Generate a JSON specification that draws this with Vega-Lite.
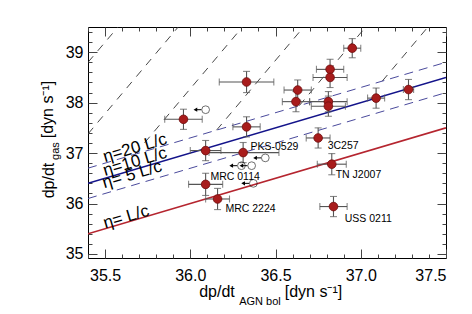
{
  "$schema": "https://vega.github.io/schema/vega-lite/v6.json",
  "width": 358,
  "height": 231,
  "autosize": {"type": "none"},
  "padding": {"left": 88, "top": 27, "right": 26, "bottom": 56},
  "background": "white",
  "config": {
    "view": {"stroke": "#000", "strokeWidth": 1},
    "font": "Liberation Sans",
    "axis": {"grid": false, "domain": false, "labelFont": "Liberation Sans", "titleFont": "Liberation Sans", "labelColor": "#000", "titleColor": "#000", "tickColor": "#444", "titleFontWeight": "normal"}
  },
  "datasets": {
    "pts": [
      {"x": 35.96, "y": 37.67, "xlo": 35.85, "xhi": 36.07, "ylo": 37.47, "yhi": 37.87},
      {"x": 36.33, "y": 38.41, "xlo": 36.17, "xhi": 36.49, "ylo": 38.2, "yhi": 38.62},
      {"x": 36.33, "y": 37.52, "xlo": 36.25, "xhi": 36.41, "ylo": 37.32, "yhi": 37.72},
      {"x": 36.09, "y": 37.05, "xlo": 36.0, "xhi": 36.18, "ylo": 36.85, "yhi": 37.25},
      {"x": 36.31, "y": 37.01, "xlo": 36.11, "xhi": 36.52, "ylo": 36.81, "yhi": 37.21},
      {"x": 36.09, "y": 36.38, "xlo": 35.99, "xhi": 36.19, "ylo": 36.16, "yhi": 36.6},
      {"x": 36.16, "y": 36.09, "xlo": 36.09, "xhi": 36.23, "ylo": 35.88, "yhi": 36.3},
      {"x": 36.95, "y": 39.08, "xlo": 36.9, "xhi": 37.0, "ylo": 38.89, "yhi": 39.27},
      {"x": 36.82, "y": 38.66, "xlo": 36.74, "xhi": 36.9, "ylo": 38.46, "yhi": 38.86},
      {"x": 36.82, "y": 38.5, "xlo": 36.72, "xhi": 36.92, "ylo": 38.3, "yhi": 38.7},
      {"x": 36.63, "y": 38.25, "xlo": 36.55, "xhi": 36.71, "ylo": 38.05, "yhi": 38.45},
      {"x": 36.62, "y": 38.02, "xlo": 36.54, "xhi": 36.7, "ylo": 37.82, "yhi": 38.22},
      {"x": 36.81, "y": 38.02, "xlo": 36.7, "xhi": 36.92, "ylo": 37.82, "yhi": 38.22},
      {"x": 36.81, "y": 37.93, "xlo": 36.71, "xhi": 36.91, "ylo": 37.73, "yhi": 38.13},
      {"x": 37.09, "y": 38.09, "xlo": 37.04, "xhi": 37.14, "ylo": 37.89, "yhi": 38.29},
      {"x": 37.28, "y": 38.26, "xlo": 37.25, "xhi": 37.31, "ylo": 38.06, "yhi": 38.46},
      {"x": 36.75, "y": 37.3, "xlo": 36.68, "xhi": 36.82, "ylo": 37.1, "yhi": 37.5},
      {"x": 36.83, "y": 36.78, "xlo": 36.745, "xhi": 36.915, "ylo": 36.57, "yhi": 36.99},
      {"x": 36.84, "y": 35.94, "xlo": 36.76, "xhi": 36.92, "ylo": 35.74, "yhi": 36.14}
    ],
    "names": [
      {"name": "PKS-0529", "lx": 36.353, "ly": 37.12},
      {"name": "MRC 0114", "lx": 36.118, "ly": 36.53},
      {"name": "MRC 2224", "lx": 36.206, "ly": 35.89},
      {"name": "3C257", "lx": 36.806, "ly": 37.14},
      {"name": "TN J2007", "lx": 36.853, "ly": 36.57},
      {"name": "USS 0211", "lx": 36.906, "ly": 35.69}
    ],
    "limits": [
      {"x": 36.09, "y": 37.86, "xs": 36.065, "xt": 36.03},
      {"x": 36.44, "y": 36.905, "xs": 36.415, "xt": 36.38},
      {"x": 36.3, "y": 36.75, "xs": 36.275, "xt": 36.24},
      {"x": 36.36, "y": 36.75, "xs": 36.335, "xt": 36.3},
      {"x": 36.37, "y": 36.4, "xs": 36.345, "xt": 36.31}
    ],
    "etaLines": [
      {"eta": "1", "x": 35.4, "y": 35.4}, {"eta": "1", "x": 37.5, "y": 37.5},
      {"eta": "10", "x": 35.4, "y": 36.4}, {"eta": "10", "x": 37.5, "y": 38.5}
    ],
    "etaDashed": [
      {"eta": "20", "x": 35.4, "y": 36.701}, {"eta": "20", "x": 37.5, "y": 38.801},
      {"eta": "5", "x": 35.4, "y": 36.099}, {"eta": "5", "x": 37.5, "y": 38.199}
    ],
    "blackLines": [
      {"id": 1, "x": 35.4, "y": 38.8}, {"id": 1, "x": 35.576, "y": 39.5},
      {"id": 2, "x": 35.4, "y": 37.38}, {"id": 2, "x": 35.929, "y": 39.5},
      {"id": 3, "x": 35.675, "y": 36.976}, {"id": 3, "x": 36.306, "y": 39.5},
      {"id": 4, "x": 36.154, "y": 37.455}, {"id": 4, "x": 36.665, "y": 39.5},
      {"id": 5, "x": 36.639, "y": 37.94}, {"id": 5, "x": 37.029, "y": 39.5},
      {"id": 6, "x": 37.126, "y": 38.427}, {"id": 6, "x": 37.394, "y": 39.5}
    ],
    "etaLabels": [
      {"t": "η=20 L/c", "x": 35.676, "y": 37.1},
      {"t": "η=10 L/c", "x": 35.676, "y": 36.825},
      {"t": "η= 5 L/c", "x": 35.659, "y": 36.57},
      {"t": "η= L/c", "x": 35.624, "y": 35.73}
    ]
  },
  "resolve": {"axis": {"x": "independent", "y": "independent"}},
  "layer": [
    {
      "data": {"name": "blackLines"},
      "mark": {"type": "line", "color": "#333", "strokeWidth": 0.9, "strokeDash": [8, 7], "clip": true},
      "encoding": {
        "x": {"field": "x", "type": "quantitative", "scale": {"domain": [35.4, 37.5], "nice": false, "zero": false},
          "axis": {"orient": "bottom", "ticks": false, "labels": true, "values": [35.5, 36, 36.5, 37, 37.5], "format": ".1f", "labelFontSize": 16, "labelPadding": 9,
            "title": "dp/dt", "titleFontSize": 16, "titleX": 128.5, "titleY": 38.5, "titleAlign": "center", "titleBaseline": "alphabetic"}},
        "y": {"field": "y", "type": "quantitative", "scale": {"domain": [34.92, 39.5], "nice": false, "zero": false},
          "axis": {"orient": "left", "ticks": false, "labels": true, "values": [35, 36, 37, 38, 39], "format": "d", "labelFontSize": 16, "labelPadding": 5,
            "title": "dp/dt", "titleFontSize": 16, "titleX": -40, "titleY": 153, "titleAlign": "center", "titleBaseline": "middle", "titleAngle": -90}},
        "detail": {"field": "id"}
      }
    },
    {
      "data": {"name": "etaDashed"},
      "mark": {"type": "line", "color": "#4a4a9c", "strokeWidth": 1, "strokeDash": [9, 6], "clip": true},
      "encoding": {
        "x": {"field": "x", "type": "quantitative", "axis": {"orient": "bottom", "labels": false, "tickSize": -9, "tickWidth": 1, "values": [35.5, 36, 36.5, 37, 37.5], "title": null}},
        "y": {"field": "y", "type": "quantitative", "axis": {"orient": "left", "labels": false, "tickSize": -9, "tickWidth": 1, "values": [35, 36, 37, 38, 39], "title": null}},
        "detail": {"field": "eta"}
      }
    },
    {
      "data": {"name": "etaLines"},
      "mark": {"type": "line", "strokeWidth": 1.6, "clip": true},
      "encoding": {
        "x": {"field": "x", "type": "quantitative", "axis": {"orient": "bottom", "labels": false, "tickSize": -4, "values": [35.4, 35.6, 35.7, 35.8, 35.9, 36.1, 36.2, 36.3, 36.4, 36.6, 36.7, 36.8, 36.9, 37.1, 37.2, 37.3, 37.4], "title": null}},
        "y": {"field": "y", "type": "quantitative", "axis": {"orient": "left", "labels": false, "tickSize": -4, "values": [35.2, 35.4, 35.6, 35.8, 36.2, 36.4, 36.6, 36.8, 37.2, 37.4, 37.6, 37.8, 38.2, 38.4, 38.6, 38.8, 39.2, 39.4], "title": null}},
        "color": {"field": "eta", "type": "nominal", "scale": {"domain": ["1", "10"], "range": ["#b5252f", "#13138a"]}, "legend": null},
        "detail": {"field": "eta"}
      }
    },
    {
      "data": {"name": "pts"},
      "mark": {"type": "rule", "color": "#555", "strokeWidth": 1.1},
      "encoding": {
        "x": {"field": "xlo", "type": "quantitative", "axis": {"orient": "top", "labels": false, "tickSize": -9, "values": [35.5, 36, 36.5, 37, 37.5], "title": null}},
        "x2": {"field": "xhi"},
        "y": {"field": "y", "type": "quantitative", "axis": {"orient": "right", "labels": false, "tickSize": -9, "values": [35, 36, 37, 38, 39], "title": null}}
      }
    },
    {
      "data": {"name": "pts"},
      "mark": {"type": "rule", "color": "#555", "strokeWidth": 1.1},
      "encoding": {
        "x": {"field": "x", "type": "quantitative", "axis": {"orient": "top", "labels": false, "tickSize": -4, "values": [35.4, 35.6, 35.7, 35.8, 35.9, 36.1, 36.2, 36.3, 36.4, 36.6, 36.7, 36.8, 36.9, 37.1, 37.2, 37.3, 37.4], "title": null}},
        "y": {"field": "ylo", "type": "quantitative", "axis": {"orient": "right", "labels": false, "tickSize": -4, "values": [35.2, 35.4, 35.6, 35.8, 36.2, 36.4, 36.6, 36.8, 37.2, 37.4, 37.6, 37.8, 38.2, 38.4, 38.6, 38.8, 39.2, 39.4], "title": null}},
        "y2": {"field": "yhi"}
      }
    },
    {
      "data": {"name": "pts"},
      "mark": {"type": "tick", "orient": "vertical", "color": "#555", "size": 7, "thickness": 1.1},
      "encoding": {
        "x": {"field": "xlo", "type": "quantitative", "axis": {"orient": "bottom", "labels": false, "ticks": false, "title": "AGN bol", "titleFontSize": 11, "titleX": 171.5, "titleY": 46.5, "titleAlign": "center", "titleBaseline": "alphabetic"}},
        "y": {"field": "y", "type": "quantitative", "axis": {"orient": "left", "labels": false, "ticks": false, "title": "gas", "titleFontSize": 11, "titleX": -33, "titleY": 123.5, "titleAlign": "center", "titleBaseline": "middle", "titleAngle": -90}}
      }
    },
    {
      "data": {"name": "pts"},
      "mark": {"type": "tick", "orient": "vertical", "color": "#555", "size": 7, "thickness": 1.1},
      "encoding": {
        "x": {"field": "xhi", "type": "quantitative", "axis": {"orient": "bottom", "labels": false, "ticks": false, "title": "[dyn s⁻¹]", "titleFontSize": 16, "titleX": 225, "titleY": 38.5, "titleAlign": "center", "titleBaseline": "alphabetic"}},
        "y": {"field": "y", "type": "quantitative", "axis": {"orient": "left", "labels": false, "ticks": false, "title": "[dyn s⁻¹]", "titleFontSize": 16, "titleX": -41, "titleY": 82, "titleAlign": "center", "titleBaseline": "middle", "titleAngle": -90}}
      }
    },
    {
      "data": {"name": "pts"},
      "mark": {"type": "tick", "orient": "horizontal", "color": "#555", "size": 7, "thickness": 1.1},
      "encoding": {
        "x": {"field": "x", "type": "quantitative", "axis": null},
        "y": {"field": "ylo", "type": "quantitative", "axis": null}
      }
    },
    {
      "data": {"name": "pts"},
      "mark": {"type": "tick", "orient": "horizontal", "color": "#555", "size": 7, "thickness": 1.1},
      "encoding": {
        "x": {"field": "x", "type": "quantitative", "axis": null},
        "y": {"field": "yhi", "type": "quantitative", "axis": null}
      }
    },
    {
      "data": {"name": "pts"},
      "mark": {"type": "point", "shape": "circle", "filled": true, "size": 75, "color": "#a81c1c", "stroke": "#6e0c0c", "strokeWidth": 0.8, "opacity": 1},
      "encoding": {
        "x": {"field": "x", "type": "quantitative", "axis": null},
        "y": {"field": "y", "type": "quantitative", "axis": null}
      }
    },
    {
      "data": {"name": "limits"},
      "mark": {"type": "point", "shape": "circle", "filled": false, "size": 60, "color": "#000", "strokeWidth": 0.8},
      "encoding": {
        "x": {"field": "x", "type": "quantitative", "axis": null},
        "y": {"field": "y", "type": "quantitative", "axis": null}
      }
    },
    {
      "data": {"name": "limits"},
      "mark": {"type": "rule", "color": "#000", "strokeWidth": 1},
      "encoding": {
        "x": {"field": "xs", "type": "quantitative", "axis": null},
        "x2": {"field": "xt"},
        "y": {"field": "y", "type": "quantitative", "axis": null}
      }
    },
    {
      "data": {"name": "limits"},
      "mark": {"type": "point", "shape": "triangle-left", "filled": true, "size": 18, "color": "#000", "opacity": 1},
      "encoding": {
        "x": {"field": "xt", "type": "quantitative", "axis": null},
        "y": {"field": "y", "type": "quantitative", "axis": null}
      }
    },
    {
      "data": {"name": "names"},
      "mark": {"type": "text", "align": "left", "baseline": "middle", "fontSize": 10.5, "color": "#000", "font": "Liberation Sans"},
      "encoding": {
        "x": {"field": "lx", "type": "quantitative", "axis": null},
        "y": {"field": "ly", "type": "quantitative", "axis": null},
        "text": {"field": "name"}
      }
    },
    {
      "data": {"name": "etaLabels"},
      "mark": {"type": "text", "align": "center", "baseline": "middle", "fontSize": 17, "angle": -16.5, "color": "#000", "font": "Liberation Sans", "fontWeight": "normal"},
      "encoding": {
        "x": {"field": "x", "type": "quantitative", "axis": null},
        "y": {"field": "y", "type": "quantitative", "axis": null},
        "text": {"field": "t"}
      }
    }
  ]
}
